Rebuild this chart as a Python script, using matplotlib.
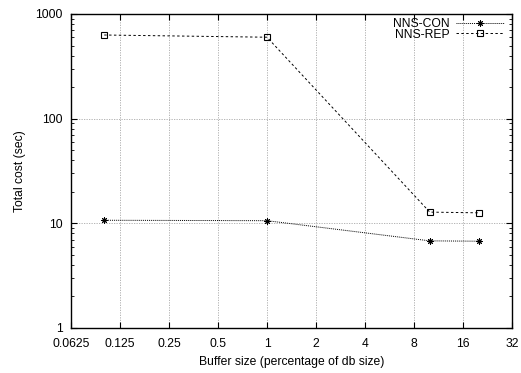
import numpy as np
import matplotlib
matplotlib.use('Agg')
import matplotlib.pyplot as plt
from matplotlib.ticker import FixedLocator, NullLocator, LogLocator, NullFormatter

plt.rcParams['font.family'] = ['Liberation Sans', 'DejaVu Sans']
plt.rcParams['font.size'] = 8.7

# ── data ──
buffer_pct = [0.1, 1, 10, 20]
nns_con = [10.7, 10.6, 6.8, 6.75]
nns_rep = [630, 600, 12.8, 12.6]

x_ticks = [0.0625, 0.125, 0.25, 0.5, 1, 2, 4, 8, 16, 32]
x_tick_labels = ['0.0625', '0.125', '0.25', '0.5', '1', '2', '4', '8', '16', '32']
y_ticks = [1, 10, 100, 1000]
y_tick_labels = ['1', '10', '100', '1000']

fig = plt.figure(figsize=(5.21, 3.73), dpi=100)
ax = fig.add_axes([71 / 521, 1 - 328 / 373, (512 - 71) / 521, (328 - 14) / 373])

ax.plot(buffer_pct, nns_con, color='black', linestyle=(0, (1, 1)), linewidth=0.7,
        marker=(8, 2, 0), markersize=4.5, markeredgewidth=0.7, label='NNS-CON')
ax.plot(buffer_pct, nns_rep, color='black', linestyle=(0, (2.5, 2.5)), linewidth=0.7,
        marker='s', markersize=4.3, markerfacecolor='none', markeredgewidth=0.8,
        label='NNS-REP')

ax.set_xscale('log', base=2)
ax.set_yscale('log')
ax.set_xlim(0.0625, 32)
ax.set_ylim(1, 1000)

ax.xaxis.set_major_locator(FixedLocator(x_ticks))
ax.set_xticklabels(x_tick_labels)
ax.xaxis.set_minor_locator(NullLocator())
ax.yaxis.set_major_locator(FixedLocator(y_ticks))
ax.set_yticklabels(y_tick_labels)
ax.yaxis.set_minor_locator(LogLocator(base=10, subs=np.arange(2, 10)))
ax.yaxis.set_minor_formatter(NullFormatter())

ax.tick_params(which='both', direction='in', top=True, right=True, labelsize=8.7)
ax.tick_params(axis='x', pad=7)
ax.tick_params(axis='y', pad=6)
ax.tick_params(which='major', length=4, width=0.8)
ax.tick_params(which='minor', length=2, width=0.6)

ax.grid(True, which='major', color='#a8a8a8', linestyle=(0, (1.5, 1.5)), linewidth=0.6)
for s in ax.spines.values():
    s.set_linewidth(1.0)

ax.set_xlabel('Buffer size (percentage of db size)', fontsize=8.7)
ax.set_ylabel('Total cost (sec)', fontsize=8.7)
ax.xaxis.set_label_coords(0.5, (328 - 356) / 314)
ax.yaxis.set_label_coords((26 - 71) / 441, 0.5)

ax.legend(loc='upper right', frameon=False, markerfirst=False, handlelength=4.0,
          fontsize=8.7, borderaxespad=0.05, labelspacing=-0.1, handletextpad=0.5,
          bbox_to_anchor=(0.995, 1.005))

fig.savefig('out.png', dpi=100)
